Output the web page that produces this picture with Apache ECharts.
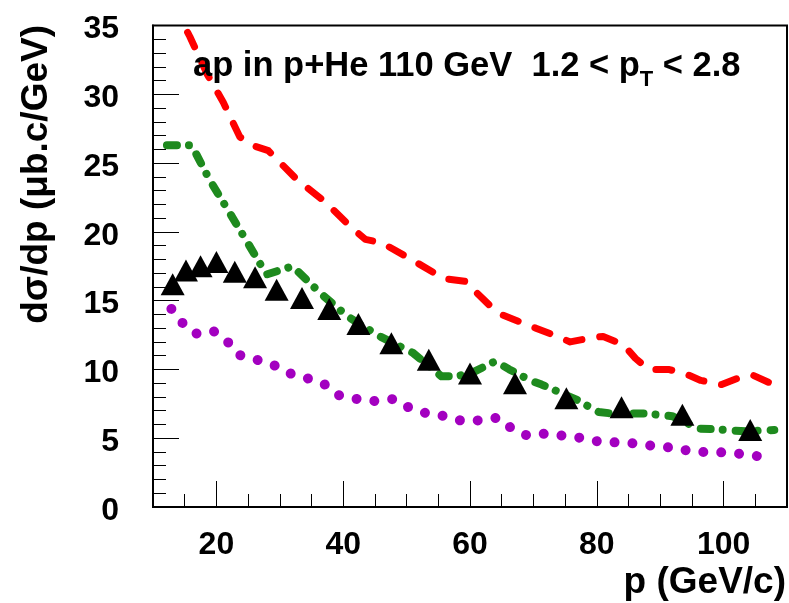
<!DOCTYPE html>
<html><head><meta charset="utf-8">
<script src="https://cdn.jsdelivr.net/npm/echarts@6/dist/echarts.min.js"></script>
<style>html,body{margin:0;padding:0;background:#fff}#c{width:789px;height:603px}</style>
</head><body><div id="c"></div>
<script>
// ---- data ----
const redX = [13.0,15.8,18.5,21.1,23.7,25.6,28.2,32.7,37.1,41.1,43.5,46.1,51.1,55.9,59.4,61.0,63.0,64.9,70.4,73.2,75.8,79.1,81.0,84.2,86.1,88.2,91.3,93.9,96.4,99.7,102.2,104.5,107.4];
const redY = [36.7,34.2,31.5,29.4,26.9,26.3,25.9,23.8,22.2,20.4,19.45,19.2,17.9,16.6,16.4,15.6,14.7,14.0,13.0,12.5,12.0,12.3,12.4,11.8,10.8,10.0,10.0,9.7,9.2,8.9,9.35,9.6,9.0];

const greenX = [12.2,16.1,18.9,21.8,24.8,27.9,32.0,36.5,40.7,45.8,51.0,55.5,58.0,60.5,64.0,66.2,69.5,71.3,76.8,80.3,82.3,87.7,91.9,96.1,98.7,103.5,108.0];
const greenY = [26.3,26.3,23.8,21.6,19.3,16.9,17.5,15.5,13.85,12.4,11.2,9.5,9.5,9.8,10.6,10.0,9.2,8.9,7.8,6.9,6.8,6.8,6.6,5.7,5.65,5.5,5.6];

const purpleX = [12.9,14.6,16.7,19.5,21.6,23.6,26.4,29.1,31.7,34.4,37.1,39.4,42.2,45.0,47.9,50.5,53.2,56.1,58.8,61.6,64.4,66.6,69.0,72.2,75.1,78.0,80.8,83.7,86.6,89.5,92.4,95.2,98.0,100.9,103.8,106.7];
const purpleY = [14.4,13.4,12.6,12.8,12.1,11.05,10.7,10.3,9.7,9.35,8.9,8.1,7.85,7.7,7.85,7.2,6.8,6.6,6.25,6.3,6.5,5.7,5.2,5.35,5.15,5.0,4.7,4.7,4.6,4.4,4.3,4.0,4.0,3.95,3.8,3.6];

const triX = [13.1,15.2,17.5,20.0,22.9,26.1,29.5,33.5,37.8,42.4,47.6,53.5,60.0,67.1,75.2,83.9,93.5,104.2];
const triY = [16.2,17.2,17.5,17.8,17.1,16.7,15.8,15.2,14.4,13.3,11.9,10.7,9.7,9.0,7.9,7.25,6.7,5.6];

const xMajorTicks = [20,40,60,80,100];
const titleMain = 'ap in p+He 110 GeV  1.2 < p';
const titleSub = 'T';
const titleEnd = ' < 2.8';
const yTitle = 'dσ/dp (μb.c/GeV)';
const xTitle = 'p (GeV/c)';

const zip = (a, b) => a.map((v, i) => [v, b[i]]);
const FONT = '"Liberation Sans", Arial, Helvetica, sans-serif';

const chart = echarts.init(document.getElementById('c'), null, {renderer: 'canvas'});
chart.setOption({
  animation: false,
  backgroundColor: '#fff',
  title: {
    text: '{a|' + titleMain + '}{s|' + titleSub + '}{a|' + titleEnd + '}',
    left: 193, top: 49, padding: 0,
    textStyle: {
      rich: {
        a: {fontSize: 34.5, fontWeight: 'bold', fontFamily: FONT, color: '#000', lineHeight: 34, verticalAlign: 'top'},
        s: {fontSize: 22, fontWeight: 'bold', fontFamily: FONT, color: '#000', lineHeight: 22, verticalAlign: 'top', padding: [20, 0, 0, 0]}
      }
    }
  },
  grid: {left: 153, right: 2, top: 25.5, bottom: 96, show: true, borderColor: '#000', borderWidth: 2, backgroundColor: 'transparent'},
  xAxis: [
    {type: 'value', min: 10, max: 110, interval: 5, position: 'bottom',
     axisLine: {show: true, onZero: false, lineStyle: {color: '#000', width: 2}},
     axisTick: {show: true, inside: true, length: 13, lineStyle: {color: '#000', width: 1}},
     axisLabel: {show: false}, splitLine: {show: false}},
    {type: 'value', min: 10, max: 110, position: 'bottom', offset: 0,
     axisLine: {show: false, onZero: false},
     axisTick: {show: true, inside: true, length: 26, customValues: xMajorTicks, lineStyle: {color: '#000', width: 1}},
     axisLabel: {show: true, customValues: xMajorTicks, fontSize: 32, fontWeight: 'bold', fontFamily: FONT, color: '#000', margin: 22},
     splitLine: {show: false}}
  ],
  yAxis: {type: 'value', min: 0, max: 35, interval: 5,
    axisLine: {show: true, onZero: false, lineStyle: {color: '#000', width: 2}},
    axisTick: {show: true, inside: true, length: 26, lineStyle: {color: '#000', width: 1}},
    minorTick: {show: true, splitNumber: 5, length: 13, lineStyle: {color: '#000', width: 1}},
    axisLabel: {margin: 34, showMinLabel: true, showMaxLabel: true,
      formatter: v => '{v|' + v + '}',
      rich: {v: {fontSize: 32, fontWeight: 'bold', fontFamily: FONT, color: '#000', lineHeight: 32, padding: [8, 0, 0, 0]}}},
    splitLine: {show: false}, minorSplitLine: {show: false}},
  graphic: [
    {type: 'text', x: 37, y: 25, rotation: Math.PI / 2,
     style: {text: yTitle, font: 'bold 37px ' + FONT, align: 'right', verticalAlign: 'middle', fill: '#000'}},
    {type: 'text', x: 786, y: 583,
     style: {text: xTitle, font: 'bold 37px ' + FONT, align: 'right', verticalAlign: 'middle', fill: '#000'}}
  ],
  series: [
    {type: 'line', name: 'red', data: zip(redX, redY), showSymbol: false, symbol: 'none', clip: true,
     lineStyle: {color: '#ff0000', width: 7, type: [16, 18], cap: 'round', join: 'round', opacity: 1}, z: 2},
    {type: 'line', name: 'green', data: zip(greenX, greenY), showSymbol: false, symbol: 'none', clip: true,
     lineStyle: {color: '#1e8a1e', width: 8, type: [10, 12, 0.01, 13], cap: 'round', join: 'round', opacity: 1}, z: 3},
    {type: 'line', name: 'purple', data: zip(purpleX, purpleY), showSymbol: false, symbol: 'none', clip: true,
     lineStyle: {color: '#a300c0', width: 10, type: [0.01, 17.9], cap: 'round', join: 'round', opacity: 1}, z: 2},
    {type: 'scatter', name: 'data', data: zip(triX, triY), symbol: 'triangle', symbolSize: [24, 22],
     itemStyle: {color: '#000', opacity: 1}, z: 5}
  ]
});
</script></body></html>
